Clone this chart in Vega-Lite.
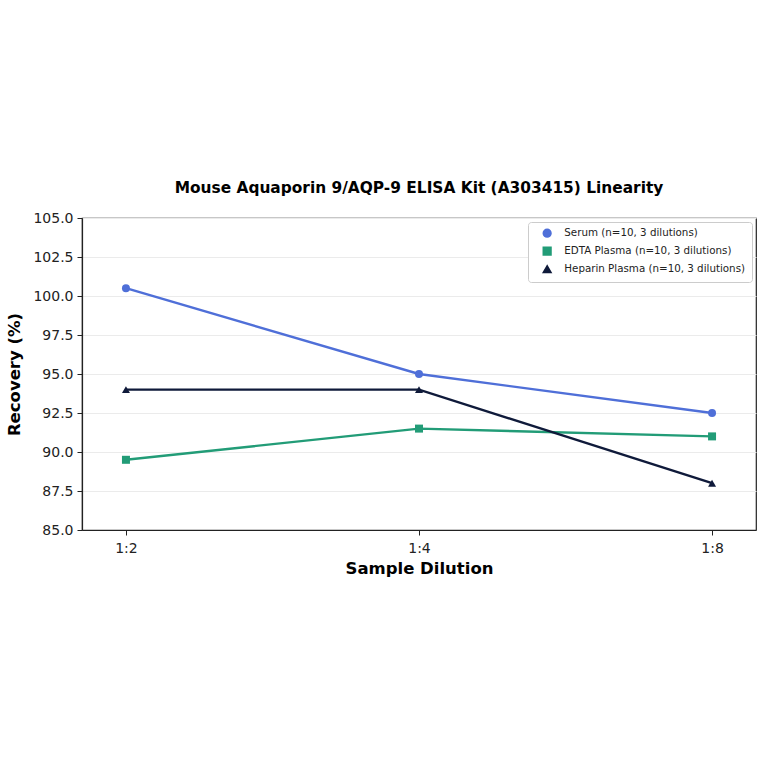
{
  "$schema": "https://vega.github.io/schema/vega-lite/v6.json",
  "width": 674,
  "height": 312,
  "autosize": "none",
  "padding": {"left": 82, "top": 218, "right": 8, "bottom": 234},
  "background": "white",
  "title": {
    "text": "Mouse Aquaporin 9/AQP-9 ELISA Kit (A303415) Linearity",
    "font": "DejaVu Sans",
    "fontSize": 15.4,
    "fontWeight": "bold",
    "color": "black",
    "offset": 15
  },
  "config": {
    "font": "DejaVu Sans",
    "view": {"stroke": "#222222", "strokeWidth": 1.2}
  },
  "data": {
    "values": [
      {"dilution": "1:2", "sample": "Serum (n=10, 3 dilutions)", "recovery": 100.5},
      {"dilution": "1:4", "sample": "Serum (n=10, 3 dilutions)", "recovery": 95.0},
      {"dilution": "1:8", "sample": "Serum (n=10, 3 dilutions)", "recovery": 92.5},
      {"dilution": "1:2", "sample": "EDTA Plasma (n=10, 3 dilutions)", "recovery": 89.5},
      {"dilution": "1:4", "sample": "EDTA Plasma (n=10, 3 dilutions)", "recovery": 91.5},
      {"dilution": "1:8", "sample": "EDTA Plasma (n=10, 3 dilutions)", "recovery": 91.0},
      {"dilution": "1:2", "sample": "Heparin Plasma (n=10, 3 dilutions)", "recovery": 94.0},
      {"dilution": "1:4", "sample": "Heparin Plasma (n=10, 3 dilutions)", "recovery": 94.0},
      {"dilution": "1:8", "sample": "Heparin Plasma (n=10, 3 dilutions)", "recovery": 88.0}
    ]
  },
  "encoding": {
    "x": {
      "field": "dilution",
      "type": "ordinal",
      "scale": {"type": "point", "padding": 0.15},
      "axis": {
        "title": "Sample Dilution",
        "titleFontSize": 16.5,
        "titleFontWeight": "bold",
        "titleColor": "black",
        "titlePadding": 5,
        "labelAngle": 0,
        "labelFontSize": 14,
        "labelColor": "#222222",
        "labelPadding": 6,
        "domainColor": "#222222",
        "domainWidth": 1.2,
        "tickColor": "#222222",
        "tickSize": 5,
        "gridColor": "#ebebeb",
        "gridOpacity": 1
      }
    },
    "y": {
      "field": "recovery",
      "type": "quantitative",
      "scale": {"domain": [85, 105], "nice": false, "zero": false},
      "axis": {
        "title": "Recovery (%)",
        "titleFontSize": 16.5,
        "titleFontWeight": "bold",
        "titleColor": "black",
        "titlePadding": 10,
        "values": [85, 87.5, 90, 92.5, 95, 97.5, 100, 102.5, 105],
        "format": ".1f",
        "labelFontSize": 14,
        "labelColor": "#222222",
        "labelPadding": 4,
        "domainColor": "#222222",
        "domainWidth": 1.2,
        "tickColor": "#222222",
        "tickSize": 5,
        "gridColor": "#ebebeb",
        "gridOpacity": 1
      }
    },
    "color": {
      "field": "sample",
      "type": "nominal",
      "scale": {
        "domain": ["Serum (n=10, 3 dilutions)", "EDTA Plasma (n=10, 3 dilutions)", "Heparin Plasma (n=10, 3 dilutions)"],
        "range": ["#4f6fd8", "#229c77", "#0f1a3a"]
      },
      "legend": {
        "title": null,
        "orient": "top-right",
        "offset": 4,
        "labelFontSize": 10.3,
        "labelColor": "#222222",
        "labelLimit": 300,
        "symbolSize": 60,
        "symbolOffset": 8,
        "labelOffset": 12,
        "rowPadding": 3,
        "padding": 6,
        "strokeColor": "#cccccc",
        "fillColor": "white",
        "cornerRadius": 3
      }
    }
  },
  "layer": [
    {
      "mark": {"type": "line", "strokeWidth": 2.4}
    },
    {
      "mark": {"type": "point", "filled": true, "size": 64, "opacity": 1},
      "encoding": {
        "shape": {
          "field": "sample",
          "type": "nominal",
          "scale": {
            "domain": ["Serum (n=10, 3 dilutions)", "EDTA Plasma (n=10, 3 dilutions)", "Heparin Plasma (n=10, 3 dilutions)"],
            "range": ["circle", "square", "triangle-up"]
          },
          "legend": null
        }
      }
    }
  ]
}
